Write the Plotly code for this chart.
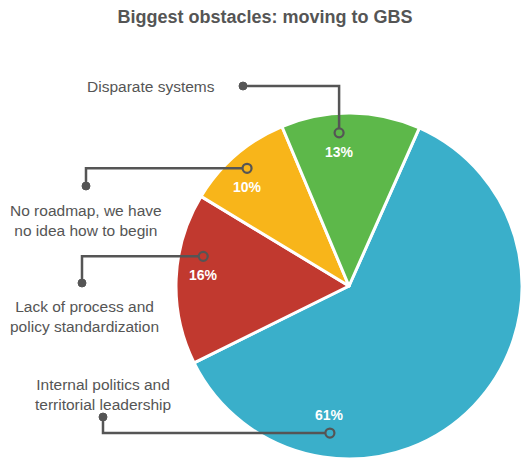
import math
import plotly.graph_objects as go

# --- data -------------------------------------------------------------
categories = [
    "Internal politics and<br>territorial leadership",
    "Lack of process and<br>policy standardization",
    "No roadmap, we have<br>no idea how to begin",
    "Disparate systems",
]
shares = [61, 16, 10, 13]
colors = ["#3AAFCA", "#C1392F", "#F8B51A", "#5DB84A"]

# --- layout constants (pixels, origin top-left) ------------------------
W, H = 522, 461
CX, CY, R = 349, 286, 173          # pie centre and radius
START = 24                         # first slice begins 24 deg clockwise from 12 o'clock

# callout ring on each slice: polar angle (deg, clockwise from top), radius fraction
ring_angle = [187.4, -78.5, -40.9, -3.7]
ring_rad = [0.857, 0.86, 0.90, 0.887]
pct_offset = [-18, 19, 19, 19]     # vertical offset of the % label from the ring
# dot at the label end of each leader line, and leader routing
dot_pos = [(103, 417), (82, 283), (86, 186), (243, 86)]
elbow = ["v", "v", "v", "h"]
# text block anchor for each category label
label_pos = [(103, 394, "center"), (85, 316, "center"), (86, 221, "center"), (217, 86, "right")]

INK = "#555555"
FONT = "Liberation Sans, Arial, sans-serif"


def fx(x):
    return x / W


def fy(y):
    return 1 - y / H


fig = go.Figure()

fig.add_trace(go.Pie(
    labels=[c.replace("<br>", " ") for c in categories],
    values=shares,
    sort=False,
    direction="clockwise",
    rotation=START,
    marker=dict(colors=colors, line=dict(color="white", width=3)),
    textinfo="none",
    hoverinfo="label+percent",
    showlegend=False,
    domain=dict(x=[fx(CX - R), fx(CX + R)], y=[fy(CY + R), fy(CY - R)]),
))

shapes = []
annotations = []
for i, cat in enumerate(categories):
    a = math.radians(ring_angle[i])
    rx = CX + ring_rad[i] * R * math.sin(a)
    ry = CY - ring_rad[i] * R * math.cos(a)
    dx, dy = dot_pos[i]
    rr = 4.5
    if elbow[i] == "v":
        pts = [(dx, dy), (dx, ry), (rx - rr, ry)]
    else:
        pts = [(dx, dy), (rx, dy), (rx, ry - rr)]
    path = "M " + " L ".join(f"{fx(x):.5f},{fy(y):.5f}" for x, y in pts)
    shapes.append(dict(type="path", path=path, xref="paper", yref="paper",
                       line=dict(color=INK, width=2.5), layer="above"))
    # filled dot at label end
    shapes.append(dict(type="circle", xref="paper", yref="paper",
                       x0=fx(dx - 4), x1=fx(dx + 4), y0=fy(dy + 4), y1=fy(dy - 4),
                       fillcolor=INK, line=dict(color=INK, width=1), layer="above"))
    # open ring on the slice
    shapes.append(dict(type="circle", xref="paper", yref="paper",
                       x0=fx(rx - rr), x1=fx(rx + rr), y0=fy(ry + rr), y1=fy(ry - rr),
                       fillcolor="rgba(0,0,0,0)", line=dict(color=INK, width=2.2),
                       layer="above"))
    # percentage label
    annotations.append(dict(x=fx(rx), y=fy(ry + pct_offset[i]), xref="paper", yref="paper",
                            text=f"<b>{shares[i]}%</b>", showarrow=False,
                            xanchor="center", yanchor="middle",
                            font=dict(family=FONT, size=14, color="white")))
    # category label
    lx, ly, al = label_pos[i]
    annotations.append(dict(x=fx(lx), y=fy(ly), xref="paper", yref="paper",
                            text=cat, showarrow=False, align=al,
                            xanchor=al, yanchor="middle",
                            font=dict(family=FONT, size=15.5, color=INK)))

fig.update_layout(
    width=W, height=H,
    margin=dict(l=0, r=0, t=0, b=0),
    paper_bgcolor="white",
    plot_bgcolor="white",
    title=dict(text="<b>Biggest obstacles: moving to GBS</b>",
               x=fx(265), y=fy(17), xanchor="center", yanchor="middle",
               font=dict(family=FONT, size=18, color=INK)),
    shapes=shapes,
    annotations=annotations,
)

fig.write_html("out.html")
